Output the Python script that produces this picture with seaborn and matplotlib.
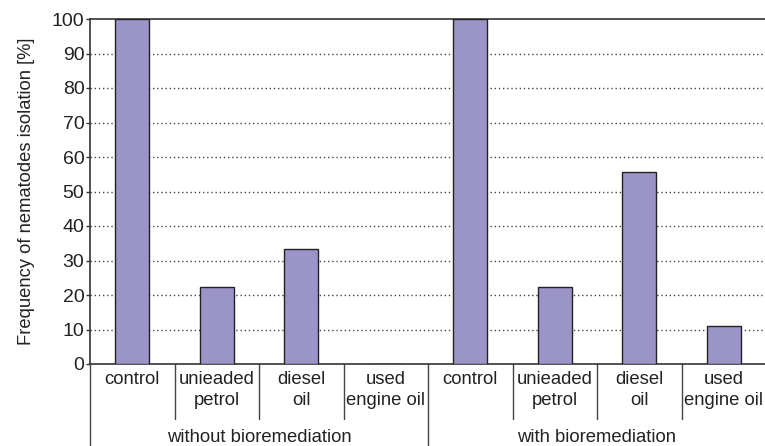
import matplotlib
matplotlib.use("Agg")
import matplotlib.pyplot as plt
import seaborn as sns
import pandas as pd
import matplotlib.transforms as mtransforms

# ---- data ----
groups = ["without bioremediation", "with bioremediation"]
categories = ["control", "unieaded\npetrol", "diesel\noil", "used\nengine oil"]
values_without = [100, 22.2, 33.3, 0]
values_with = [100, 22.2, 55.6, 11.1]
y_ticks = [0, 10, 20, 30, 40, 50, 60, 70, 80, 90, 100]
y_label = "Frequency of nematodes isolation [%]"

keys, vals, cats, grps = [], [], [], []
for g, vs in zip(groups, [values_without, values_with]):
    for c, v in zip(categories, vs):
        keys.append(f"{g}|{c}")
        vals.append(v)
        cats.append(c)
        grps.append(g)
df = pd.DataFrame({"key": keys, "value": vals, "cat": cats, "group": grps})

sns.set_style("white")
plt.rcParams["font.family"] = ["Liberation Sans", "DejaVu Sans"]

fig = plt.figure(figsize=(7.65, 4.46), dpi=100)
ax = fig.add_axes([90 / 765, (446 - 364) / 446, (766 - 90) / 765, (364 - 19) / 446])

sns.barplot(data=df, x="key", y="value", order=keys, color="#9b94c8",
            saturation=1, width=0.4, edgecolor="#222222", linewidth=1.0, ax=ax,
            zorder=3)

ax.set_xlim(-0.5, len(keys) - 0.5)
ax.set_ylim(0, 100)
ax.set_yticks(y_ticks)
ax.set_yticklabels([str(t) for t in y_ticks], fontsize=14, color="#222222")
ax.tick_params(axis="y", length=3, width=1, color="#333333", pad=1, direction="out", left=True)
ax.set_xticks([])
ax.set_xlabel("")
ax.set_ylabel(y_label, fontsize=13.2, color="#222222", labelpad=12)

for t in y_ticks[1:-1]:
    ax.axhline(t, color="#444444", linestyle=(0, (1, 2)), linewidth=1, zorder=1)

for side in ["left", "top", "bottom"]:
    ax.spines[side].set_visible(True)
    ax.spines[side].set_color("#333333")
    ax.spines[side].set_linewidth(1.2)
ax.spines["right"].set_visible(False)

trans = mtransforms.blended_transform_factory(ax.transData, ax.transAxes)
axh = 364 - 19
inner_bot = -(419 - 364) / axh
outer_bot = -(446 - 364) / axh
n = len(keys)
for i in range(n):
    xpos = i - 0.5
    bot = outer_bot if i % 4 == 0 else inner_bot
    ax.plot([xpos, xpos], [0, bot], transform=trans, color="#444444",
            linewidth=1, clip_on=False)

for i, c in enumerate(cats):
    ax.text(i, -(371 - 364) / axh, c, transform=trans, ha="center", va="top",
            fontsize=13.3, color="#222222", linespacing=1.3)

for gi, g in enumerate(groups):
    ax.text(gi * 4 + 1.5, -(437 - 364) / axh, g, transform=trans, ha="center",
            va="center", fontsize=13.3, color="#222222")

fig.savefig("out.png", dpi=100)
